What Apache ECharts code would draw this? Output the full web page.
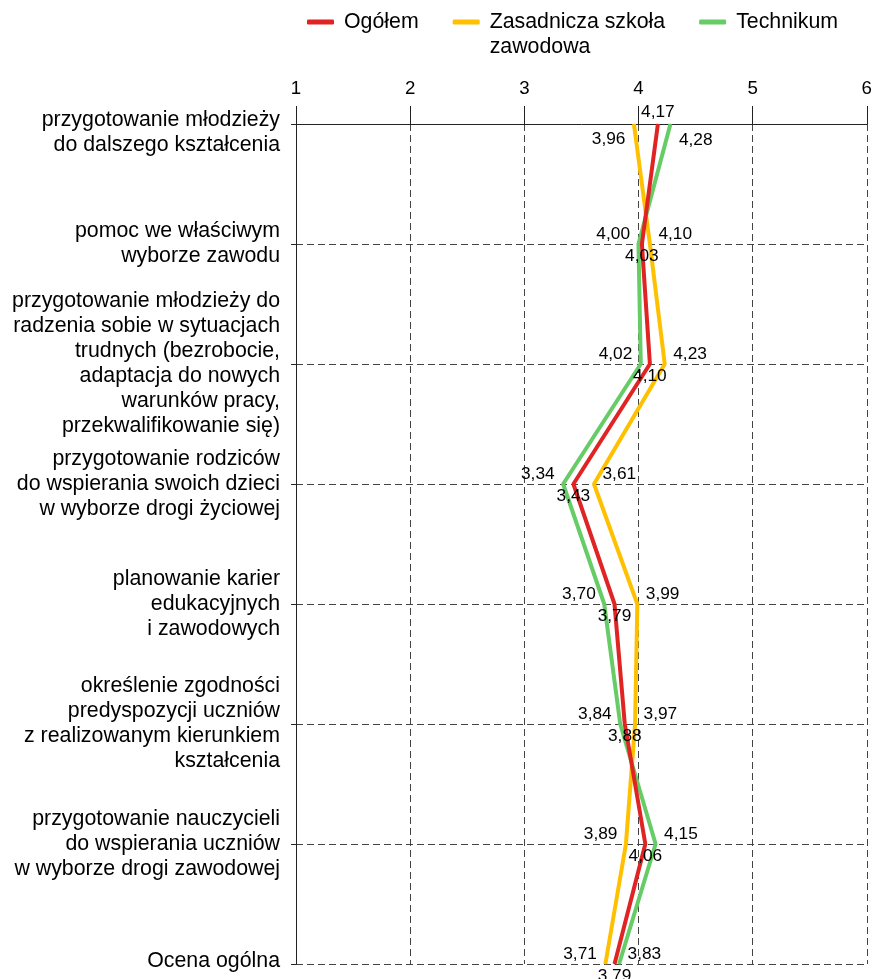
<!DOCTYPE html>
<html>
<head>
<meta charset="utf-8">
<script src="https://cdn.jsdelivr.net/npm/echarts@6/dist/echarts.min.js"></script>
<style>
html,body{margin:0;padding:0;background:#fff;}
#chart{width:875px;height:979px;}
</style>
</head>
<body>
<div id="chart"></div>
<script>
const categories = [
  "przygotowanie młodzieży\ndo dalszego kształcenia",
  "pomoc we właściwym\nwyborze zawodu",
  "przygotowanie młodzieży do\nradzenia sobie w sytuacjach\ntrudnych (bezrobocie,\nadaptacja do nowych\nwarunków pracy,\nprzekwalifikowanie się)",
  "przygotowanie rodziców\ndo wspierania swoich dzieci\nw wyborze drogi życiowej",
  "planowanie karier\nedukacyjnych\ni zawodowych",
  "określenie zgodności\npredyspozycji uczniów\nz realizowanym kierunkiem\nkształcenia",
  "przygotowanie nauczycieli\ndo wspierania uczniów\nw wyborze drogi zawodowej",
  "Ocena ogólna"
];
const seriesNames = ["Ogółem", "Zasadnicza szkoła zawodowa", "Technikum"];
const ogolem      = [4.17, 4.03, 4.10, 3.43, 3.79, 3.88, 4.06, 3.79];
const zasadnicza  = [3.96, 4.10, 4.23, 3.61, 3.99, 3.97, 3.89, 3.71];
const technikum   = [4.28, 4.00, 4.02, 3.34, 3.70, 3.84, 4.15, 3.83];
const xTicks = [1, 2, 3, 4, 5, 6];

const colors = ["#E02424", "#FFC000", "#66CC66"];
const allVals = [ogolem, zasadnicza, technikum];
const FONT = 'Liberation Sans, Arial, sans-serif';

function labelFor(si, ci) {
  const vals = allVals.map(a => a[ci]);
  const v = vals[si];
  const mn = Math.min(...vals), mx = Math.max(...vals);
  const first = ci === 0;
  if (v === mn && vals.indexOf(mn) === si) return {position: 'left', distance: 8, offset: [0, first ? 15 : -10]};
  if (v === mx && vals.indexOf(mx) === si) return {position: 'right', distance: 8, offset: [0, first ? 16 : -10]};
  return {position: first ? 'top' : 'bottom', distance: 3, offset: [0, 0]};
}

const fmt = v => v.toFixed(2).replace('.', ',');

const series = allVals.map((arr, si) => ({
  name: seriesNames[si],
  type: 'line',
  data: arr.map((v, ci) => ({value: v, label: labelFor(si, ci)})),
  symbol: 'circle',
  symbolSize: 1,
  showSymbol: true,
  z: 3 + (si === 0 ? 2 : (si === 1 ? 0 : 1)),
  lineStyle: {color: colors[si], width: 4},
  itemStyle: {color: colors[si]},
  label: {
    show: true,
    color: '#000',
    fontSize: 17.3,
    fontFamily: FONT,
    formatter: p => fmt(p.value)
  },
  emphasis: {disabled: true},
  animation: false
}));

function catLabel(value, index) {
  const body = '{n|' + value + '}';
  if (index === 0) return '{s| }\n' + body;
  if (index === categories.length - 1) return body + '\n{e| }';
  return body;
}

const chart = echarts.init(document.getElementById('chart'));
chart.setOption({
  animation: false,
  textStyle: {fontFamily: FONT},
  color: colors,
  legend: {
    left: 307,
    top: -15.5,
    padding: 0,
    itemWidth: 27,
    itemHeight: 5,
    itemGap: 34,
    icon: 'roundRect',
    data: seriesNames,
    formatter: n => n === "Zasadnicza szkoła zawodowa" ? "\nZasadnicza szkoła\nzawodowa" : n,
    textStyle: {fontSize: 21.33, color: '#000', lineHeight: 25, fontFamily: FONT, padding: [0, 0, 0, 5]}
  },
  grid: {left: 296, right: 2, top: 124, bottom: 13, containLabel: false},
  xAxis: {
    type: 'value',
    position: 'top',
    min: xTicks[0],
    max: xTicks[xTicks.length - 1],
    interval: 1,
    axisLine: {show: true, lineStyle: {color: '#222', width: 1}},
    axisTick: {show: true, length: 18, lineStyle: {color: '#222'}},
    axisLabel: {fontSize: 18.67, color: '#000', margin: 26, formatter: v => String(v)},
    splitLine: {show: true, lineStyle: {color: '#444', type: [7, 4], width: 1}}
  },
  yAxis: {
    type: 'category',
    inverse: true,
    boundaryGap: false,
    data: categories,
    axisLine: {show: true, lineStyle: {color: '#222', width: 1}},
    axisTick: {show: true, length: 5, lineStyle: {color: '#222'}},
    axisLabel: {
      fontSize: 21.33, color: '#000', margin: 16, lineHeight: 25, align: 'right',
      formatter: catLabel,
      rich: {
        n: {fontSize: 21.33, lineHeight: 25, color: '#000', fontFamily: FONT, align: 'right'},
        s: {fontSize: 8, lineHeight: 17, align: 'right'},
        e: {fontSize: 4, lineHeight: 5, align: 'right'}
      }
    },
    splitLine: {show: true, lineStyle: {color: '#444', type: [7, 4], width: 1}}
  },
  series: series
});
</script>
</body>
</html>
